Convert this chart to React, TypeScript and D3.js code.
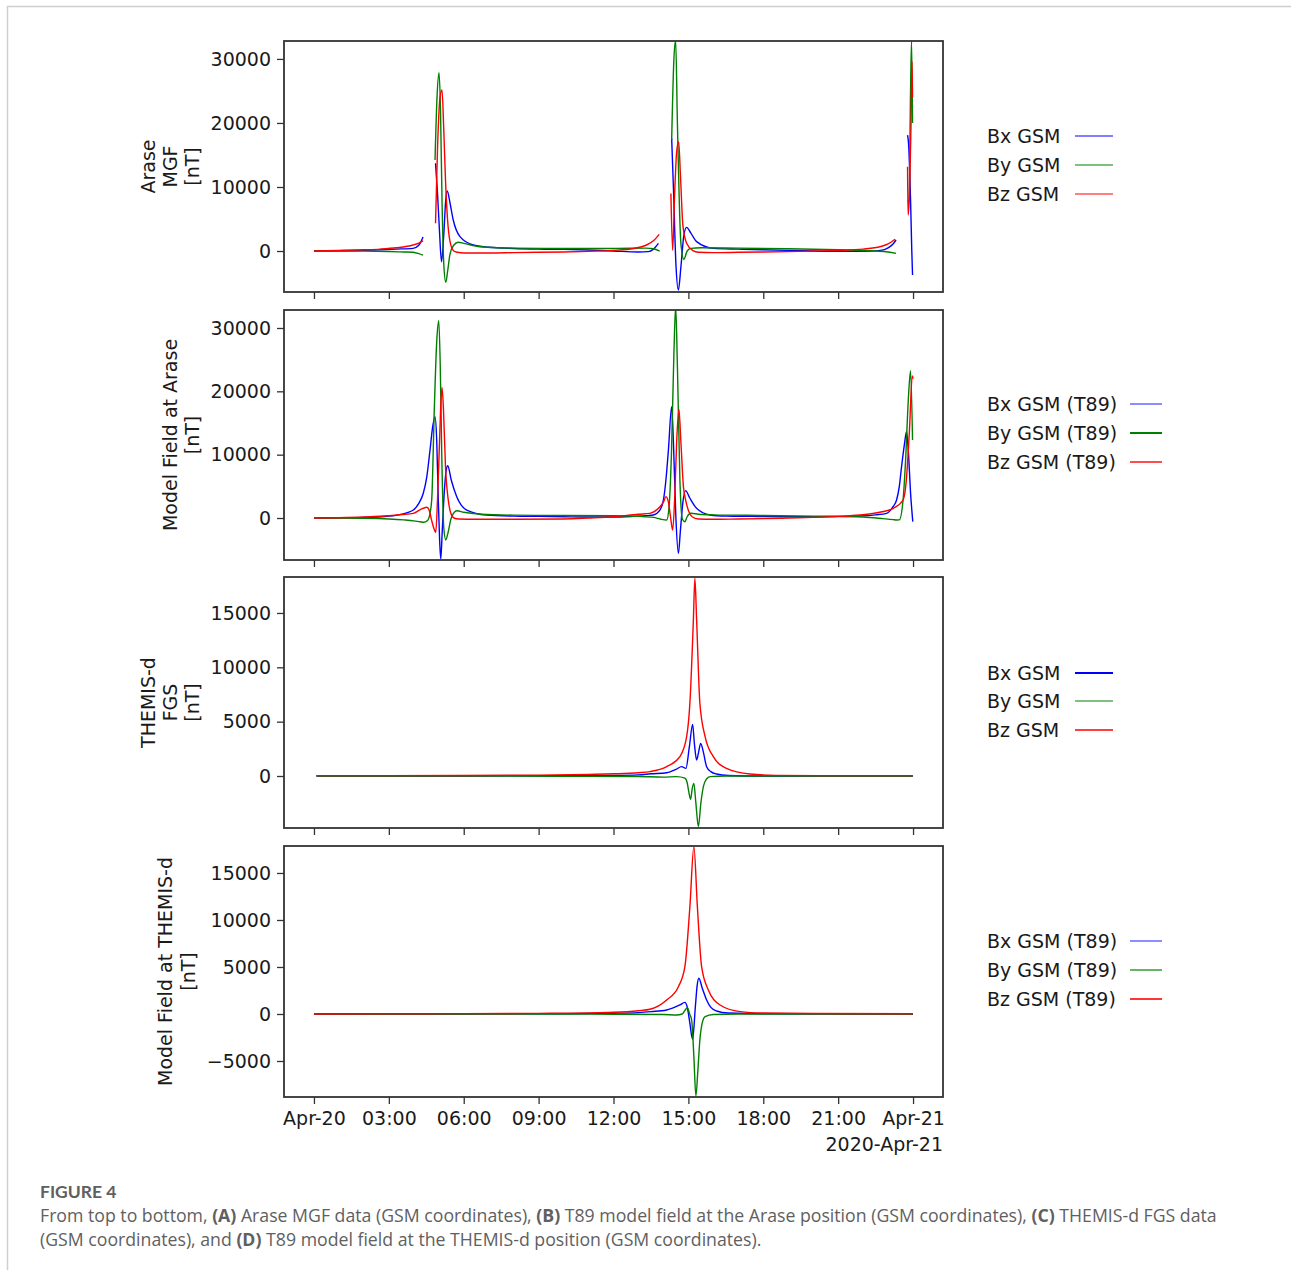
import React, { useEffect, useRef } from 'react';
import * as d3 from 'd3';

type Pt = [number, number];

// (A) Arase MGF, GSM, hours since 2020-04-20 00:00 -> nT (NaN = data gap)
const mgfBx: Pt[] = [
  [0, 0], [1, 40], [2, 100], [2.65, 200], [3.3, 300], [3.97, 420], [4.2, 900], [4.37, 2200],
  [4.6, NaN],
  [4.87, 13700], [4.95, 9000], [5.03, 3000], [5.11, -1670], [5.2, 2500], [5.28, 8000], [5.34, 9375], [5.45, 7500],
  [5.58, 4840], [5.85, 2240], [6.38, 940], [7, 600], [8, 400], [9, 300], [10, 250], [11, 150], [12, 0], [13, -150],
  [13.4, -100], [13.6, 300], [13.8, 1200],
  [14.1, NaN],
  [14.33, 17600], [14.4, 10000], [14.5, -2000], [14.6, -6100], [14.7, -2500], [14.82, 2500], [14.93, 3700], [15.1, 2800],
  [15.33, 1460], [16, 420], [17, 300], [18, 200], [19, 100], [20, 0], [21, -50], [22, -50], [22.7, 100], [23.0, 500],
  [23.2, 1100], [23.32, 1720],
  [23.55, NaN],
  [23.78, 18100], [23.82, 16800], [23.9, 8000], [23.95, 0], [23.98, -3750],
];
const mgfBy: Pt[] = [
  [0, 0], [1, 0], [2, -20], [3, -80], [3.6, -150], [3.97, -200], [4.2, -400], [4.37, -650],
  [4.6, NaN],
  [4.85, 14200], [4.93, 24000], [5.01, 27860], [5.07, 22000], [5.13, 8000], [5.2, -2000], [5.28, -4890], [5.36, -3000],
  [5.45, -500], [5.6, 900], [5.78, 1360], [6.0, 1200], [6.65, 670], [8, 450], [10, 400], [12, 400], [13.3, 450],
  [13.6, 350], [13.85, 0],
  [14.1, NaN],
  [14.33, 17340], [14.42, 30000], [14.49, 32900], [14.56, 20000], [14.7, 1200], [14.82, -1300], [14.95, 0], [15.1, 420],
  [15.5, 500], [17, 450], [19, 350], [21, 200], [22.5, 0], [23, -150], [23.32, -360],
  [23.55, NaN],
  [23.78, 7700], [23.84, 8000], [23.9, 25000], [23.94, 32900], [23.98, 20000],
];
const mgfBz: Pt[] = [
  [0, 0], [1, 100], [2, 200], [2.65, 300], [3.3, 500], [3.97, 940], [4.2, 1250], [4.37, 1600],
  [4.6, NaN],
  [4.87, 4330], [4.95, 16000], [5.05, 24000], [5.13, 25160], [5.2, 19000], [5.27, 11000], [5.35, 5000], [5.45, 1500],
  [5.6, 0], [5.75, -200], [6.0, -300], [7, -300], [8, -250], [9, -200], [10, -150], [11, -50], [12, 100], [12.8, 400],
  [13.3, 900], [13.6, 1600], [13.83, 2600],
  [14.1, NaN],
  [14.3, 9000], [14.37, 100], [14.45, 9000], [14.53, 15500], [14.61, 17080], [14.68, 12000], [14.78, 4000], [14.93, 1200],
  [15.18, 50], [15.4, -200], [16, -250], [17, -200], [18, -150], [19, -100], [20, 0], [21, 100], [22, 300], [22.7, 700],
  [23.0, 1100], [23.28, 1830],
  [23.55, NaN],
  [23.78, 13170], [23.8, 5600], [23.86, 9000], [23.92, 20000], [23.96, 29580], [23.98, 24000],
];

// (B) T89 model field at Arase
const t89ArBx: Pt[] = [
  [0, 0], [1, 50], [2, 100], [2.7, 200], [3.4, 500], [3.98, 1260], [4.2, 2300], [4.38, 3900], [4.52, 6500], [4.65, 10740],
  [4.76, 14500], [4.85, 16000], [4.92, 12000], [4.98, 3000], [5.03, -3000], [5.08, -6500], [5.14, -2000], [5.22, 4000],
  [5.3, 7600], [5.36, 8260], [5.5, 6000], [5.72, 3370], [6.12, 1260], [6.92, 470], [8, 300], [9, 250], [10, 200], [11, 150],
  [12, 150], [12.8, 250], [13.3, 350], [13.6, 470], [13.85, 1200], [14.0, 2840], [14.1, 6000], [14.2, 10740], [14.33, 17580],
  [14.4, 12000], [14.5, 0], [14.6, -5580], [14.68, -2000], [14.78, 2500], [14.89, 4320], [15.05, 3200], [15.33, 1530],
  [15.87, 470], [16.5, 300], [17.5, 250], [19, 200], [20, 200], [21, 250], [21.87, 320], [22.5, 500], [22.94, 740],
  [23.2, 1800], [23.34, 2840], [23.45, 5000], [23.54, 8100], [23.65, 11500], [23.74, 13630], [23.82, 10000], [23.9, 4000],
  [23.99, -580],
];
const t89ArBy: Pt[] = [
  [0, 0], [2, -50], [3, -150], [3.6, -300], [4.0, -450], [4.25, -600], [4.4, -680], [4.55, -400], [4.65, 780], [4.72, 3000],
  [4.82, 17000], [4.92, 28000], [5.0, 31150], [5.06, 24000], [5.12, 10000], [5.2, -1500], [5.28, -3470], [5.36, -2500],
  [5.5, 0], [5.72, 1150], [6.0, 900], [6.7, 600], [8, 450], [10, 400], [12, 350], [13, 250], [13.6, 100], [13.9, -200],
  [14.13, -320], [14.22, 1500], [14.32, 10000], [14.42, 26000], [14.49, 33500], [14.56, 24000], [14.66, 6000], [14.76, -200],
  [14.86, -580], [14.95, 200], [15.1, 740], [15.4, 600], [16, 500], [18, 400], [20, 300], [22, 150], [22.8, -100],
  [23.2, -250], [23.34, -320], [23.45, -300], [23.6, 2840], [23.7, 9000], [23.81, 18630], [23.9, 23260], [23.98, 12320],
];
const t89ArBz: Pt[] = [
  [0, 0], [1, 50], [2, 150], [3, 350], [3.5, 550], [3.98, 740], [4.25, 1300], [4.52, 1690], [4.62, 1200], [4.71, -320],
  [4.82, -1800], [4.88, -2260], [4.95, 3000], [5.03, 12000], [5.09, 18500], [5.13, 20630], [5.19, 17000], [5.27, 8000],
  [5.38, 2840], [5.48, 800], [5.61, 0], [5.8, -150], [6.5, -200], [8, -200], [10, -150], [11, 0], [12, 200], [13, 600],
  [13.46, 740], [13.86, 1790], [14.0, 2500], [14.1, 3370], [14.2, 2500], [14.29, 0], [14.37, -1900], [14.45, 3000],
  [14.53, 12000], [14.62, 17160], [14.7, 12000], [14.8, 5000], [14.89, 2840], [15.0, 1200], [15.15, 200], [15.4, -150],
  [16, -200], [17, -150], [18, -100], [19, 0], [20, 100], [21, 250], [21.87, 470], [22.5, 800], [23.21, 1530], [23.6, 2840],
  [23.72, 5480], [23.85, 13370], [23.97, 22420], [24.0, 22000],
];

// (C) THEMIS-d FGS
const fgsBx: Pt[] = [
  [0.1, 0], [3, 0], [6, 0], [9, 20], [12, 50], [13, 100], [13.5, 200], [14.13, 300], [14.5, 600], [14.73, 860], [14.9, 700],
  [15.04, 2700], [15.17, 4750], [15.24, 3000], [15.33, 1470], [15.41, 2200], [15.49, 3000], [15.6, 2200], [15.73, 860],
  [15.9, 400], [16.13, 180], [16.6, 50], [18, 0], [21, 0], [24, 0],
];
const fgsBy: Pt[] = [
  [0.1, 0], [6, 0], [10, -20], [13, -50], [14, -100], [14.53, -60], [14.86, -200], [14.95, -600], [15.02, -1500],
  [15.09, -2150], [15.15, -1200], [15.22, -680], [15.3, -2500], [15.4, -4660], [15.5, -2500], [15.6, -980], [15.72, -300],
  [15.87, -60], [16.5, 0], [24, 0],
];
const fgsBz: Pt[] = [
  [0.1, 30], [3, 30], [6, 40], [9, 80], [11, 150], [12, 200], [13, 300], [13.46, 400], [14.13, 860], [14.66, 1780],
  [14.93, 3620], [15.06, 6690], [15.2, 14350], [15.26, 18190], [15.33, 14350], [15.46, 6690], [15.67, 3620], [16.0, 1780],
  [16.53, 700], [17.47, 180], [18.5, 60], [21, 30], [24, 30],
];

// (D) T89 model field at THEMIS-d
const t89ThBx: Pt[] = [
  [0, 0], [6, 0], [10, 30], [12, 80], [13, 150], [13.5, 250], [14.13, 425], [14.66, 960], [14.86, 1240], [14.95, 780],
  [15.05, -800], [15.17, -2700], [15.28, 800], [15.35, 3000], [15.42, 3800], [15.55, 2800], [15.73, 1490], [15.9, 700],
  [16.13, 320], [16.6, 100], [18, 20], [24, 0],
];
const t89ThBy: Pt[] = [
  [0, 0], [6, 0], [12, -20], [14, -50], [14.53, -100], [14.75, 0], [14.96, 670], [15.05, 0], [15.13, -640], [15.22, -4540],
  [15.3, -8720], [15.38, -6000], [15.46, -2770], [15.56, -900], [15.67, -280], [16.0, -50], [17, 0], [24, 0],
];
const t89ThBz: Pt[] = [
  [0, 0], [3, 20], [6, 40], [9, 70], [11.46, 140], [12, 180], [13, 350], [13.46, 500], [14.13, 1490], [14.6, 2900],
  [14.86, 5030], [15.06, 11410], [15.22, 17800], [15.36, 11410], [15.53, 5030], [15.8, 2550], [16.27, 960], [17.07, 250],
  [18, 100], [20, 50], [24, 30],
];

const tickHours = [0, 3, 6, 9, 12, 15, 18, 21, 24];
const tickLabels = ['Apr-20', '03:00', '06:00', '09:00', '12:00', '15:00', '18:00', '21:00', 'Apr-21'];
const legendGsm = ['Bx GSM', 'By GSM', 'Bz GSM'];
const legendT89 = ['Bx GSM (T89)', 'By GSM (T89)', 'Bz GSM (T89)'];
const colors = ['#0000ff', '#008000', '#ff0000'];

const panels = [
  { top: 41, bottom: 292, domain: [-6400, 32800], ticks: [0, 10000, 20000, 30000], label: ['Arase', 'MGF', '[nT]'],
    labelX: [148, 170, 192], series: [mgfBx, mgfBy, mgfBz], legend: legendGsm, legX: [1075, 1113], legY: [136, 165, 194],
    legW: [1.2, 1.2, 1.2] },
  { top: 310, bottom: 560, domain: [-6630, 32840], ticks: [0, 10000, 20000, 30000], label: ['Model Field at Arase', '[nT]'],
    labelX: [170, 192], series: [t89ArBx, t89ArBy, t89ArBz], legend: legendT89, legX: [1130, 1162], legY: [404, 433, 462],
    legW: [0.9, 2, 1.4] },
  { top: 577, bottom: 828, domain: [-4785, 18310], ticks: [0, 5000, 10000, 15000], label: ['THEMIS-d', 'FGS', '[nT]'],
    labelX: [148, 170, 192], series: [fgsBx, fgsBy, fgsBz], legend: legendGsm, legX: [1075, 1113], legY: [673, 701, 730],
    legW: [1.8, 1, 1.4] },
  { top: 846, bottom: 1097, domain: [-8830, 17870], ticks: [-5000, 0, 5000, 10000, 15000],
    label: ['Model Field at THEMIS-d', '[nT]'], labelX: [165, 188], series: [t89ThBx, t89ThBy, t89ThBz], legend: legendT89,
    legX: [1130, 1162], legY: [941, 970, 999], legW: [0.9, 1.2, 1.6] },
];

const font = 'DejaVu Sans, sans-serif';
const fs = 19;

export default function App() {
  const svgRef = useRef<SVGSVGElement>(null);

  useEffect(() => {
    const svg = d3.select(svgRef.current);
    svg.selectAll('*').remove();

    // page frame
    svg.append('line').attr('x1', 7).attr('x2', 1291).attr('y1', 6.5).attr('y2', 6.5).attr('stroke', '#cfcfcf').attr('stroke-width', 1.5);
    svg.append('line').attr('x1', 7.5).attr('x2', 7.5).attr('y1', 6).attr('y2', 1270).attr('stroke', '#cfcfcf').attr('stroke-width', 1.5);

    const x = d3.scaleLinear().domain([-1.2, 25.2]).range([284, 943]);

    panels.forEach((p, pi) => {
      const y = d3.scaleLinear().domain(p.domain).range([p.bottom, p.top]);
      const g = svg.append('g');

      g.append('clipPath').attr('id', `clip${pi}`)
        .append('rect').attr('x', 284).attr('y', p.top).attr('width', 659).attr('height', p.bottom - p.top);

      const line = d3.line<Pt>()
        .defined((d) => !isNaN(d[1]))
        .x((d) => x(d[0]))
        .y((d) => y(d[1]))
        .curve(d3.curveMonotoneX);

      p.series.forEach((s, si) => {
        g.append('path')
          .attr('d', line(s))
          .attr('fill', 'none')
          .attr('stroke', colors[si])
          .attr('stroke-width', 1.4)
          .attr('clip-path', `url(#clip${pi})`);
      });

      // y axis
      const yAxis = g.append('g').attr('transform', 'translate(284,0)')
        .call(d3.axisLeft(y).tickValues(p.ticks).tickFormat(d3.format('d')).tickSize(7).tickPadding(6));
      yAxis.select('.domain').remove();
      yAxis.selectAll('line').attr('stroke', '#333').attr('stroke-width', 1.3);
      yAxis.selectAll('text').attr('font-family', font).attr('font-size', fs).attr('fill', '#1a1a1a');

      // x axis (ticks on every panel, labels only on the last)
      const xAxis = g.append('g').attr('transform', `translate(0,${p.bottom})`)
        .call(d3.axisBottom(x).tickValues(tickHours).tickSize(7).tickPadding(8)
          .tickFormat((d, i) => (pi === panels.length - 1 ? tickLabels[i] : '')));
      xAxis.select('.domain').remove();
      xAxis.selectAll('line').attr('stroke', '#333').attr('stroke-width', 1.3);
      xAxis.selectAll('text').attr('font-family', font).attr('font-size', fs).attr('fill', '#1a1a1a');

      // frame
      g.append('rect').attr('x', 284).attr('y', p.top).attr('width', 659).attr('height', p.bottom - p.top)
        .attr('fill', 'none').attr('stroke', '#333').attr('stroke-width', 1.8);

      // y label
      const cy = (p.top + p.bottom) / 2;
      p.label.forEach((t, li) => {
        g.append('text')
          .attr('transform', `translate(${p.labelX[li]},${cy}) rotate(-90)`)
          .attr('text-anchor', 'middle')
          .attr('dominant-baseline', 'central')
          .attr('font-family', font).attr('font-size', fs).attr('fill', '#1a1a1a')
          .text(t);
      });

      // legend
      p.legend.forEach((t, li) => {
        g.append('text')
          .attr('x', 987).attr('y', p.legY[li])
          .attr('dominant-baseline', 'central')
          .attr('font-family', font).attr('font-size', fs).attr('fill', '#1a1a1a')
          .text(t);
        g.append('line')
          .attr('x1', p.legX[0]).attr('x2', p.legX[1]).attr('y1', p.legY[li]).attr('y2', p.legY[li])
          .attr('stroke', colors[li]).attr('stroke-width', p.legW[li]);
      });
    });

    svg.append('text').attr('x', 943).attr('y', 1151).attr('text-anchor', 'end')
      .attr('font-family', font).attr('font-size', fs).attr('fill', '#1a1a1a').text('2020-Apr-21');

    // caption
    const capFont = 'Open Sans, sans-serif';
    svg.append('text').attr('x', 40).attr('y', 1198).attr('font-family', 'Lato, sans-serif').attr('font-size', 17.5)
      .attr('font-weight', 700).attr('fill', '#606060').text('FIGURE 4');

    const capLines = [
      [['From top to bottom, ', 400], ['(A)', 700], [' Arase MGF data (GSM coordinates), ', 400], ['(B)', 700],
        [' T89 model field at the Arase position (GSM coordinates), ', 400], ['(C)', 700], [' THEMIS-d FGS data', 400]],
      [['(GSM coordinates), and ', 400], ['(D)', 700], [' T89 model field at the THEMIS-d position (GSM coordinates).', 400]],
    ];
    capLines.forEach((parts, i) => {
      const t = svg.append('text').attr('x', 40).attr('y', 1222 + i * 24)
        .attr('font-family', capFont).attr('font-size', 17.7).attr('fill', '#606060');
      parts.forEach(([s, w]) => {
        t.append('tspan').attr('font-weight', w as number).text(s as string);
      });
    });
  }, []);

  return (
    <svg ref={svgRef} width={1291} height={1270}
      style={{ position: 'absolute', left: 0, top: 0, background: '#fff' }} />
  );
}
